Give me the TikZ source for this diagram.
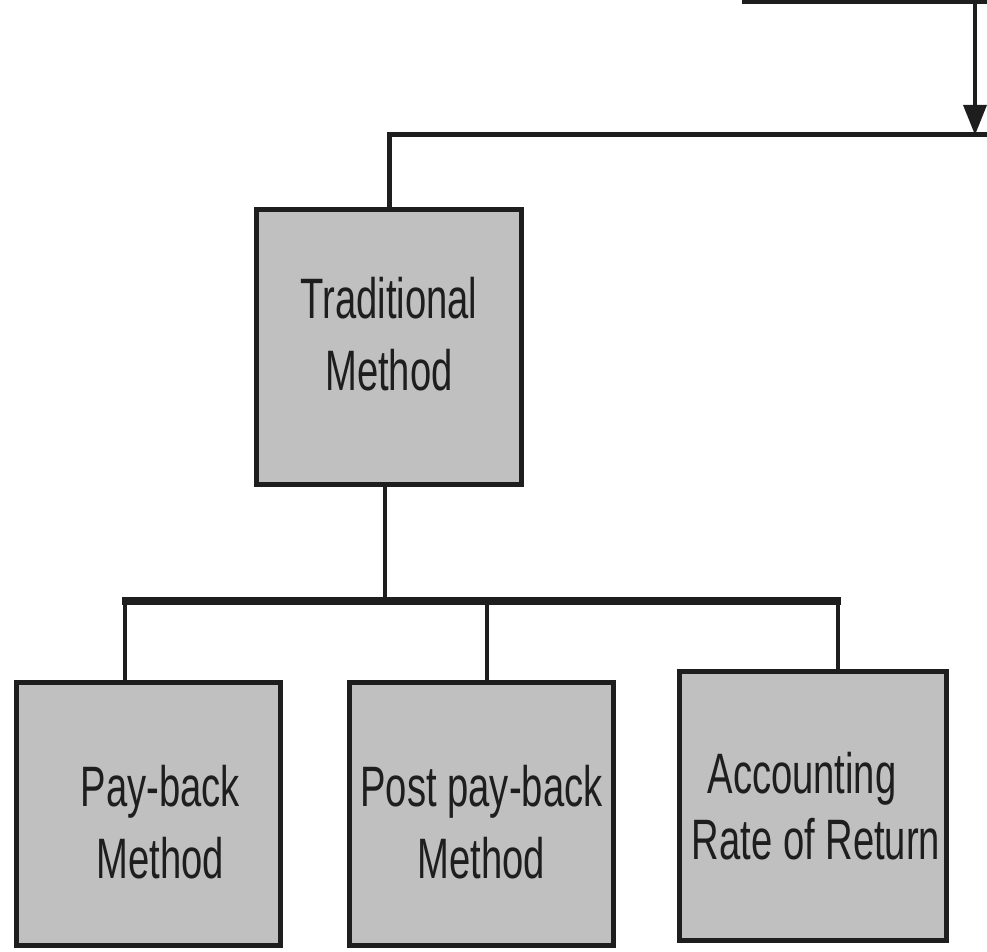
\documentclass[tikz,border=0pt]{standalone}
\usepackage{fontspec}
\newfontfamily\boxfont[FakeStretch=0.67]{Liberation Sans}
\usetikzlibrary{arrows.meta}
\definecolor{boxgray}{HTML}{C0C0C0}
\definecolor{inkblack}{HTML}{1E1E1E}

\begin{document}
\begin{tikzpicture}[x=1pt,y=1pt,
        method/.style={draw=inkblack,fill=boxgray,line width=5pt,rectangle,inner sep=0pt,
            align=center,text=inkblack,font=\boxfont\fontsize{57}{72}\selectfont},
        bus/.style={draw=inkblack,line width=5pt,line join=miter},
        stem/.style={draw=inkblack,line width=3.5pt}]
        \useasboundingbox (0,0) rectangle (987,951);
        \clip (0,0) rectangle (987,951);
        %% Upper level (edge only)
        \draw[bus] (742,949) -- (995,949);
        \coordinate (topedge) at (975,949);
        \coordinate (fork) at (975,816);
        \draw[stem,-{Triangle[length=30pt,width=23pt]}] (topedge) -- (fork);
        %% Traditional method
        \node[method,minimum width=265pt,minimum height=275pt] (trad) at (389,604)
            {Traditional\\Method\rule[-26pt]{0pt}{26pt}};
        \draw[bus] (trad.north) |- (fork) -- (995,816);
        %% Sub-methods
        \node[method,minimum width=264pt,minimum height=263pt] (payback) at (148.5,137)
            {\rule{24pt}{0pt}\rule{0pt}{58pt}Pay-back\\\rule{24pt}{0pt}Method};
        \node[method,minimum width=264pt,minimum height=263pt] (postpay) at (481.5,137)
            {\rule{0pt}{58pt}Post pay-back\\Method};
        \node[method,minimum width=267pt,minimum height=269pt,
            font=\boxfont\fontsize{57}{66}\selectfont] (arr) at (813,145)
            {Accounting\rule{22pt}{0pt}\\\rule{6pt}{0pt}Rate of Return};
        %% Branches
        \coordinate (hub) at (385,350);
        \coordinate (b1) at (125,350);
        \coordinate (b2) at (487,350);
        \coordinate (b3) at (838,350);
        \draw[stem] (trad.south -| hub) -- (hub);
        \draw[bus,line width=7pt] (122,350) -- (841,350);
        \draw[stem] (b1) -- (b1 |- payback.north);
        \draw[stem] (b2) -- (b2 |- postpay.north);
        \draw[stem] (b3) -- (b3 |- arr.north);
    \end{tikzpicture}
\end{document}
